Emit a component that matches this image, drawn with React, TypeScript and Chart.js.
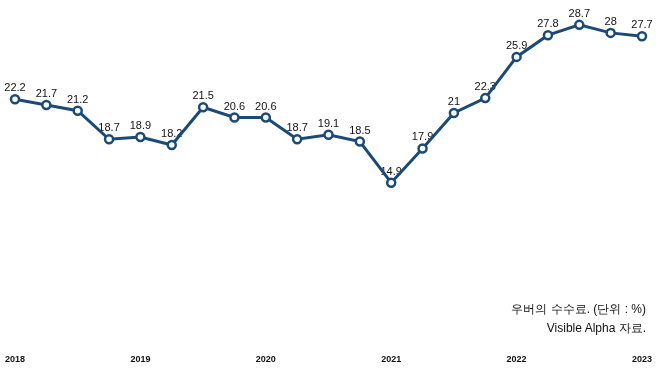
import React, { useEffect, useRef } from "react";
import { Chart, registerables } from "chart.js";

Chart.register(...registerables);

const quarters = [
  "2018", "2018Q2", "2018Q3", "2018Q4",
  "2019", "2019Q2", "2019Q3", "2019Q4",
  "2020", "2020Q2", "2020Q3", "2020Q4",
  "2021", "2021Q2", "2021Q3", "2021Q4",
  "2022", "2022Q2", "2022Q3", "2022Q4",
  "2023",
];
const commission = [
  22.2, 21.7, 21.2, 18.7, 18.9, 18.2, 21.5, 20.6, 20.6, 18.7, 19.1, 18.5,
  14.9, 17.9, 21, 22.3, 25.9, 27.8, 28.7, 28, 27.7,
];
const valueLabels = commission.map((v) => String(v));
const noteLines = ["우버의 수수료. (단위 : %)", "Visible Alpha 자료."];

const FONT = "'Liberation Sans', Arial, Helvetica, sans-serif";

const labelPlugin = {
  id: "pointLabels",
  beforeDatasetsDraw(chart: any) {
    const ctx = chart.ctx;
    const meta = chart.getDatasetMeta(0);
    ctx.save();
    ctx.font = `11px ${FONT}`;
    ctx.fillStyle = "#111111";
    ctx.textAlign = "center";
    ctx.textBaseline = "middle";
    meta.data.forEach((el: any, i: number) => {
      ctx.fillText(valueLabels[i], el.x, el.y - 11);
    });
    ctx.restore();
  },
};

export default function App() {
  const ref = useRef<HTMLCanvasElement | null>(null);
  useEffect(() => {
    document.body.style.margin = "0";
    const chart = new Chart(ref.current as HTMLCanvasElement, {
      type: "line",
      data: {
        labels: quarters,
        datasets: [
          {
            data: commission,
            borderColor: "#1c4a78",
            borderWidth: 3,
            pointRadius: 4,
            pointBorderWidth: 2.5,
            pointBackgroundColor: "#ffffff",
            pointBorderColor: "#1c4a78",
            tension: 0,
          },
        ],
      },
      options: {
        responsive: false,
        animation: false,
        layout: { padding: { left: 15, right: 16, top: 10, bottom: 4 } },
        plugins: { legend: { display: false }, tooltip: { enabled: false } },
        scales: {
          x: {
            grid: { display: false, drawTicks: false, tickLength: 0 },
            border: { display: false },
            ticks: {
              autoSkip: false,
              maxRotation: 0,
              padding: 1,
              color: "#111111",
              font: { family: FONT, size: 9, weight: "bold" },
              callback: (_v: any, i: number) => (i % 4 === 0 ? quarters[i] : ""),
            },
          },
          y: { display: false, min: 0, max: 30 },
        },
      },
      plugins: [labelPlugin],
    });
    return () => chart.destroy();
  }, []);
  return (
    <div style={{ position: "relative", width: 658, height: 370, background: "#fff" }}>
      <canvas ref={ref} width={658} height={370} />
      <div
        style={{
          position: "absolute",
          right: 12,
          top: 300,
          textAlign: "right",
          fontFamily: FONT,
          fontSize: 12,
          lineHeight: "19px",
          color: "#111",
        }}
      >
        {noteLines.map((l) => (
          <div key={l}>{l}</div>
        ))}
      </div>
    </div>
  );
}
